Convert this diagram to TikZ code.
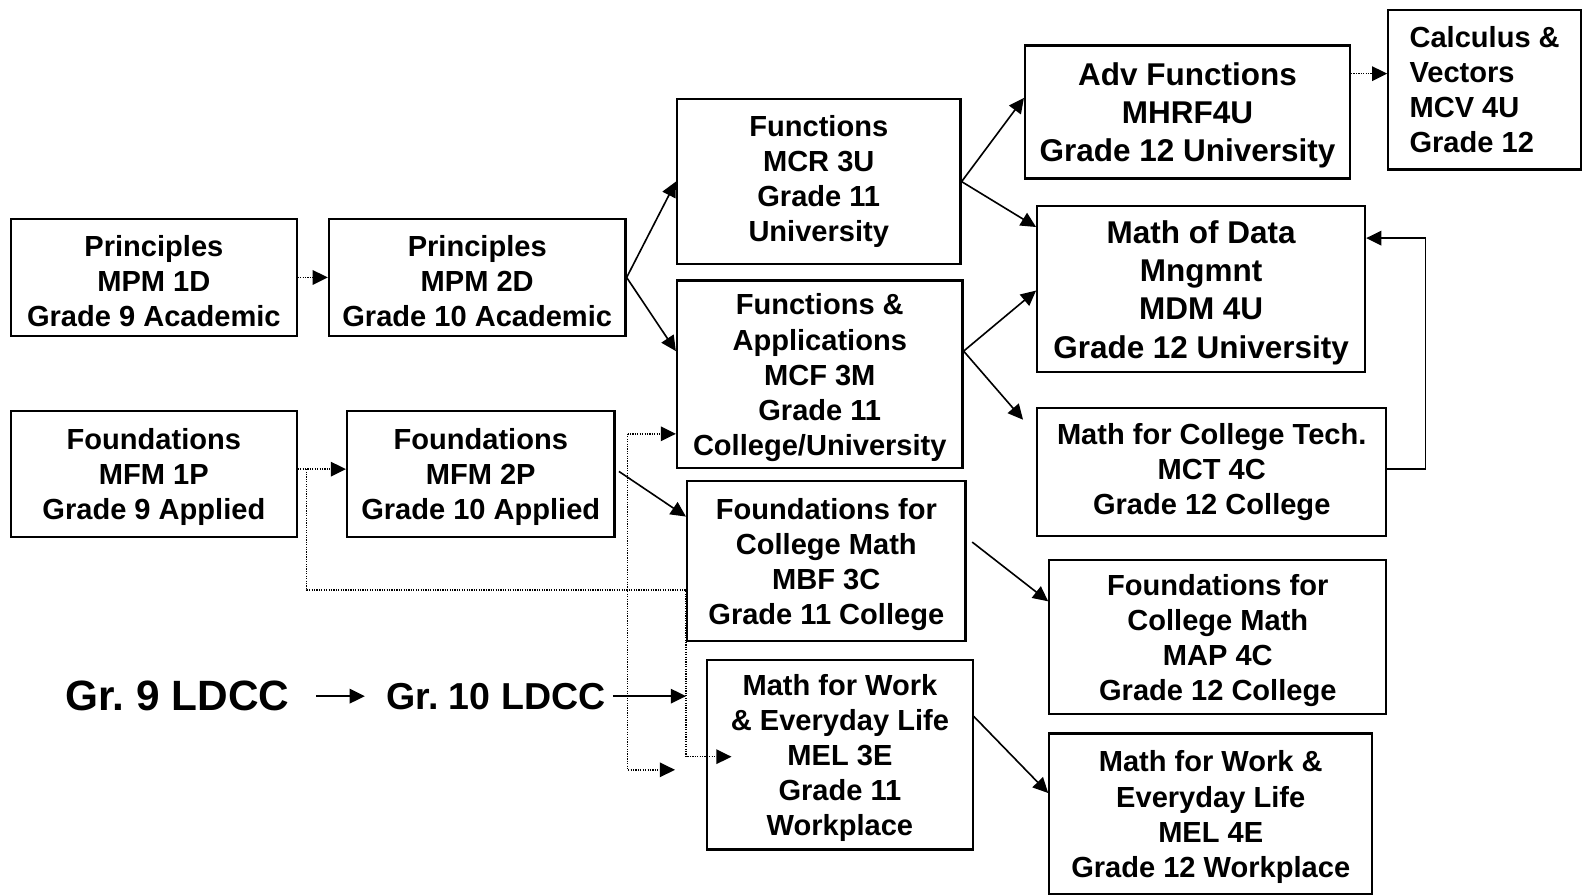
\documentclass[tikz,border=0pt]{standalone}
\usepackage{fontspec}
\setmainfont{Liberation Sans}
\usetikzlibrary{arrows.meta}
\newcommand{\tsa}{\rule{0pt}{13.8pt}}
\newcommand{\tsb}{\rule{0pt}{15pt}}
\begin{document}
\begin{tikzpicture}[x=0.5pt,y=-0.5pt,
  box/.style={draw,line width=1.1pt,inner sep=0pt,align=center,font=\bfseries\fontsize{14.4}{17.4}\selectfont},
  bigbox/.style={box,font=\bfseries\fontsize{15.6}{18.9}\selectfont},
  leftbox/.style={draw,line width=1.1pt,inner sep=0pt,align=left,font=\bfseries\fontsize{14.4}{17.4}\selectfont},
  sz/.style 2 args={minimum width=#1*0.5pt,minimum height=#2*0.5pt},
  arr/.style={line width=0.8pt,-{Triangle[length=7.5pt,width=7.2pt]}},
  thinarr/.style={line width=0.7pt,-{Triangle[length=7.5pt,width=7.2pt]}},
  dotline/.style={line width=0.75pt,dash pattern=on 0.6pt off 0.6pt},
  dotarr/.style={dotline,-{Triangle[length=7.5pt,width=7.2pt]}},
  ldccbig/.style={inner sep=0pt,font=\bfseries\fontsize{21}{25}\selectfont},
  ldccsmall/.style={inner sep=0pt,font=\bfseries\fontsize{18.6}{22}\selectfont},
]
\useasboundingbox (0,0) rectangle (1568,888);

% boxes
\node[box,sz={283}{116}] (p1) at (152.5,275) {\tsa Principles\\MPM 1D\\Grade 9 Academic};
\node[box,sz={294}{116}] (p2) at (473,275) {\tsa Principles\\MPM 2D\\Grade 10 Academic};
\node[box,sz={283}{125}] (f1) at (152.5,469.5) {\tsa Foundations\\MFM 1P\\Grade 9 Applied};
\node[box,sz={265}{125}] (f2) at (476.5,469.5) {\tsa Foundations\\MFM 2P\\Grade 10 Applied};
\node[box,sz={281}{164}] (mcr) at (811.5,180) {Functions\\MCR 3U\\Grade 11\\University};
\node[box,sz={283}{186}] (mcf) at (812.5,371) {\tsa Functions \&\\Applications\\MCF 3M\\Grade 11\\College/University};
\node[bigbox,sz={322}{132}] (adv) at (1177,111) {\tsb Adv Functions\\MHRF4U\\Grade 12 University};
\node[bigbox,sz={325}{165}] (mdm) at (1190.5,286.5) {\tsb Math of Data\\Mngmnt\\MDM 4U\\Grade 12 University};
\node[leftbox,sz={191}{158}] (calc) at (1471.5,89) {Calculus \&\\Vectors\\MCV 4U\\Grade 12};
\node[box,sz={346}{127}] (mct) at (1201,467.5) {Math for College Tech.\\MCT 4C\\Grade 12 College};
\node[box,sz={276}{158}] (mbf) at (819,556) {\tsa Foundations for\\College Math\\MBF 3C\\Grade 11 College};
\node[box,sz={334}{153}] (map) at (1207,631.5) {\tsa Foundations for\\College Math\\MAP 4C\\Grade 12 College};
\node[box,sz={263}{188}] (mel3) at (832.5,748) {\tsa Math for Work\\\& Everyday Life\\MEL 3E\\Grade 11\\Workplace};
\node[box,sz={320}{159}] (mel4) at (1200,806.5) {\tsa Math for Work \&\\Everyday Life\\MEL 4E\\Grade 12 Workplace};

\node[ldccbig] (g9) at (176,690) {Gr.\ 9 LDCC};
\node[ldccsmall] (g10) at (491.5,690) {Gr.\ 10 LDCC};

% free ends / junctions
\coordinate (j1) at (304,465);
\coordinate (m3in) at (725,750);
\coordinate (b1) at (622,430);
\coordinate (b2) at (622,763);
\coordinate (b3) at (669,763);
\coordinate (mcttip) at (1014,416);

% connectors
\draw[dotarr] (p1.east) -- (p2.west);
\draw[arr] (p2.east) -- (mcr.west);
\draw[arr] (p2.east) -- (mcf.west |- 0,348);
\draw[arr] (mcr.east) -- (adv.west |- 0,97);
\draw[arr] (mcr.east) -- (mdm.west |- 0,225);
\draw[arr] (mcf.east |- 0,348) -- (mdm.west |- 0,288);
\draw[arr] (mcf.east |- 0,348) -- (mcttip);
\draw[dotarr] (adv.east |- 0,73) -- (calc.west |- 0,73);
\draw[thinarr] (mct.east |- 0,465) -- ++(38,0) |- (mdm.east |- 0,236);

\draw[dotarr] (f1.east |- 0,465) -- (f2.west |- 0,465);
\draw[dotarr] (j1) |- (mbf.west |- 0,585) -- (mbf.west |- 0,750) -- (m3in);
\draw[dotarr] (b1) -- (mcf.west |- b1);
\draw[dotarr] (b1) -- (b2) -- (b3);
\draw[arr,shorten <=2pt] (f2.east |- 0,465) -- (mbf.west |- 0,512);

\draw[arr,shorten <=13pt,shorten >=10.5pt] (g9.east) -- (g10.west);
\draw[arr,shorten <=3.5pt] (g10.east) -- (mbf.west |- g10.east);
\draw[arr,shorten <=3.5pt] (mbf.east |- 0,533) -- (map.west |- 0,596);
\draw[arr] (mel3.east |- 0,710) -- (mel4.west |- 0,786);
\end{tikzpicture}
\end{document}
